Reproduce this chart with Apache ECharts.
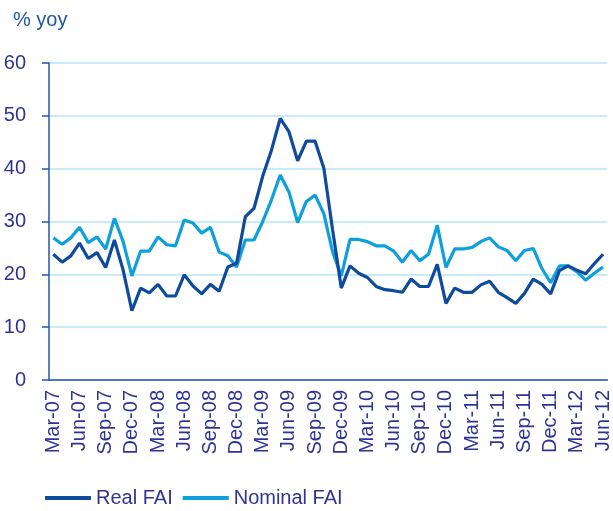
<!DOCTYPE html>
<html>
<head>
<meta charset="utf-8">
<script src="https://cdn.jsdelivr.net/npm/echarts@6/dist/echarts.min.js"></script>
<style>
  html, body { margin: 0; padding: 0; background: #fff; }
  #chart { width: 613px; height: 511px; }
</style>
</head>
<body>
<div id="chart"></div>
<script>
// monthly, Mar-07 .. Jun-12
const months = [
  'Mar-07', 'Apr-07', 'May-07', 'Jun-07', 'Jul-07', 'Aug-07', 'Sep-07', 'Oct-07', 'Nov-07', 'Dec-07',
  'Jan-08', 'Feb-08', 'Mar-08', 'Apr-08', 'May-08', 'Jun-08', 'Jul-08', 'Aug-08', 'Sep-08', 'Oct-08', 'Nov-08', 'Dec-08',
  'Jan-09', 'Feb-09', 'Mar-09', 'Apr-09', 'May-09', 'Jun-09', 'Jul-09', 'Aug-09', 'Sep-09', 'Oct-09', 'Nov-09', 'Dec-09',
  'Jan-10', 'Feb-10', 'Mar-10', 'Apr-10', 'May-10', 'Jun-10', 'Jul-10', 'Aug-10', 'Sep-10', 'Oct-10', 'Nov-10', 'Dec-10',
  'Jan-11', 'Feb-11', 'Mar-11', 'Apr-11', 'May-11', 'Jun-11', 'Jul-11', 'Aug-11', 'Sep-11', 'Oct-11', 'Nov-11', 'Dec-11',
  'Jan-12', 'Feb-12', 'Mar-12', 'Apr-12', 'May-12', 'Jun-12'
]

const realFAI = [
  23.8, 22.3, 23.5, 25.9, 23.0, 24.1, 21.3, 26.5, 20.8, 13.1,
  17.4, 16.5, 18.1, 15.9, 15.9, 19.9, 17.8, 16.3, 18.1, 16.8, 21.4, 22.1,
  30.9, 32.5, 38.6, 43.5, 49.5, 47.0, 41.5, 45.2, 45.2, 40.1, 28.5, 17.4,
  21.6, 20.2, 19.4, 17.7, 17.1, 16.9, 16.6, 19.1, 17.7, 17.7, 21.9, 14.5,
  17.4, 16.6, 16.6, 18.0, 18.7, 16.6, 15.6, 14.5, 16.4, 19.1, 18.1, 16.3,
  20.7, 21.6, 20.8, 20.1, 22.0, 23.8
]

const nominalFAI = [
  26.9, 25.7, 26.9, 28.9, 26.0, 27.1, 24.8, 30.6, 26.2, 19.7,
  24.4, 24.4, 27.1, 25.6, 25.4, 30.3, 29.7, 27.8, 28.9, 24.2, 23.5, 21.4,
  26.5, 26.5, 30.0, 34.1, 38.8, 35.6, 29.8, 33.8, 35.0, 31.5, 24.3, 19.7,
  26.6, 26.6, 26.2, 25.4, 25.4, 24.4, 22.3, 24.5, 22.6, 23.8, 29.3, 21.3,
  24.8, 24.8, 25.1, 26.2, 26.9, 25.2, 24.5, 22.6, 24.5, 24.9, 21.1, 18.4,
  21.6, 21.6, 20.5, 18.9, 20.2, 21.4
]

const FONT = '"Liberation Sans", Arial, sans-serif'
const TEXT = '#2f3494'
const AXIS = '#2456a4'

const chart = echarts.init(document.getElementById('chart'))

chart.setOption({
  animation: false,
  title: {
    text: '% yoy',
    left: 8,
    top: 5,
    textStyle: { fontFamily: FONT, fontSize: 20, fontWeight: 'normal', color: '#1f55a6' },
  },
  legend: {
    left: 40,
    top: 483,
    itemWidth: 46,
    itemHeight: 4,
    itemGap: 10,
    icon: 'rect',
    textStyle: { fontFamily: FONT, fontSize: 20, color: TEXT },
    data: ['Real FAI', 'Nominal FAI'],
  },
  grid: { left: 49, right: 3, top: 63, bottom: 131, containLabel: false },
  xAxis: {
    type: 'category',
    data: months,
    boundaryGap: true,
    axisLine: { lineStyle: { color: AXIS, width: 1.5 } },
    axisTick: { interval: 2, length: 7, lineStyle: { color: AXIS, width: 1.5 } },
    axisLabel: {
      interval: 2,
      rotate: 90,
      margin: 10,
      padding: [0, 0, 8, 0],
      fontFamily: FONT,
      fontSize: 20,
      color: TEXT,
    },
    splitLine: { show: false },
  },
  yAxis: {
    type: 'value',
    min: 0,
    max: 60,
    interval: 10,
    axisLine: { show: true, lineStyle: { color: AXIS, width: 1.5 } },
    axisTick: { show: true, length: 7, lineStyle: { color: AXIS, width: 1.5 } },
    axisLabel: { margin: 23, fontFamily: FONT, fontSize: 20, color: TEXT },
    splitLine: { lineStyle: { color: '#b5e5f8', width: 1.5 } },
  },
  series: [
    {
      name: 'Real FAI',
      type: 'line',
      data: realFAI,
      symbol: 'none',
      lineStyle: { color: '#0f4a9c', width: 3.2 },
      itemStyle: { color: '#0f4a9c' },
      z: 3,
    },
    {
      name: 'Nominal FAI',
      type: 'line',
      data: nominalFAI,
      symbol: 'none',
      lineStyle: { color: '#0ea0dd', width: 3.2 },
      itemStyle: { color: '#0ea0dd' },
      z: 2,
    },
  ],
})
</script>
</body>
</html>
